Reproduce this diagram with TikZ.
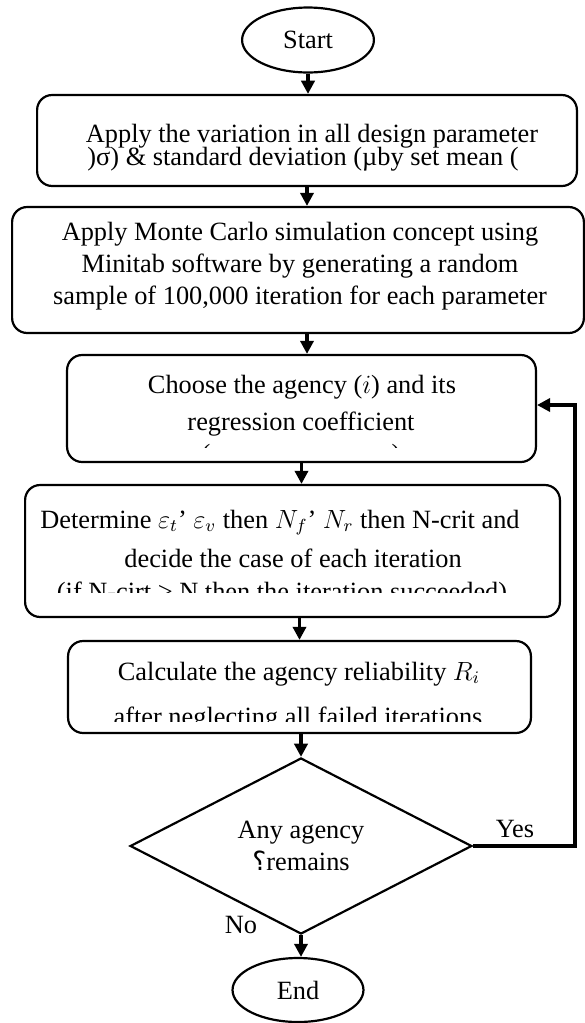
\documentclass[tikz,border=0pt]{standalone}
\usepackage{fontspec}
\setmainfont{Liberation Serif}
\newfontfamily\arabicfont[Script=Arabic]{DejaVu Sans}
\TeXXeTstate=1
\usepackage{tikz}
\usetikzlibrary{arrows.meta,shapes,shapes.geometric}

\begin{document}
\begin{tikzpicture}[x=0.016cm, y=-0.016cm, font=\fontsize{12}{14.5}\selectfont,
term/.style={ellipse, draw, line width=1pt, inner sep=0pt, minimum width=2.11cm, minimum height=1.04cm},
stage/.style={draw, rectangle, rounded corners=0.24cm, line width=1pt, inner sep=0pt},
query/.style={diamond, draw, line width=1pt, inner sep=0pt, minimum width=5.47cm, minimum height=2.56cm, align=center},
txt/.style={anchor=base, inner sep=0pt},
flow/.style={-{Triangle[length=6pt,width=6pt]}, line width=1.6pt}]

\useasboundingbox (0,0) rectangle (585,1023);

\node[term] (start) at (308,40) {Start};

\node[stage, minimum width=8.64cm, minimum height=1.456cm] (b1) at (307,140.5) {};
\node[txt] (b1a) at (312,142) {Apply the variation in all design parameter};
\node[txt] (b1b) at (303,165) {)σ) \& standard deviation (µby set mean (};

\node[stage, minimum width=9.152cm, minimum height=2.016cm] (b2) at (298,270) {};
\node[txt] (b2a) at (300,240) {Apply Monte Carlo simulation concept using};
\node[txt] (b2b) at (300,272) {Minitab software by generating a random};
\node[txt] (b2c) at (300,304) {sample of 100,000 iteration for each parameter};

\node[stage, minimum width=7.504cm, minimum height=1.712cm] (b3) at (301.5,408.5) {};
\node[txt] (b3a) at (302,393) {Choose the agency ($i$) and its};
\node[txt] (b3b) at (301,430) {regression coefficient};
\begin{scope}
\clip (67,355) rectangle (536,447);
\node[txt] (b3c) at (301,462) {(\hspace{2.9cm})};
\end{scope}

\node[stage, minimum width=8.56cm, minimum height=2.112cm] (b4) at (292.5,551) {};
\node[txt] (b4a) at (280,528) {Determine $\varepsilon_t$’ $\varepsilon_v$ then $N_f$’ $N_r$ then N-crit and};
\node[txt] (b4b) at (293,567) {decide the case of each iteration};
\begin{scope}
\clip (25,485) rectangle (560,592);
\node[txt] (b4c) at (282,600) {(if N-cirt > N then the iteration succeeded)};
\end{scope}

\node[stage, minimum width=7.408cm, minimum height=1.472cm] (b5) at (299.5,687) {};
\node[txt] (b5a) at (299,680) {Calculate the agency reliability $R_i$};
\begin{scope}
\clip (68,641) rectangle (531,721);
\node[txt] (b5b) at (298,725) {after neglecting all failed iterations};
\end{scope}

\node[query] (ask) at (301,846) {Any agency\\{\arabicfont\beginR ؟\endR}remains};

\node[term, minimum width=2.096cm, minimum height=1.024cm] (finish) at (298,990) {End};

\path[draw] [flow] (start.south) -- (b1.north -| start);
\path[draw] [flow] (b1.south) -- (b2.north -| b1);
\path[draw] [flow] (b2.south -| b1) -- (b3.north -| b1);
\path[draw] [flow] (b3.south) -- (b4.north -| b3);
\path[draw] [flow] (b4.south -| b5) -- (b5.north);
\path[draw] [flow] (b5.south -| ask) -- (ask.north);
\path[draw] [flow] (ask.south) -- (finish.north -| ask);

\coordinate (turn) at (575,405);
\path[draw] [flow, line width=1.5pt] (ask.east) -| (turn) -- (b3.east |- turn);

\node[txt] (yes) at (515,837) {Yes};
\node[txt] (no) at (241,933) {No};

\end{tikzpicture}
\end{document}
